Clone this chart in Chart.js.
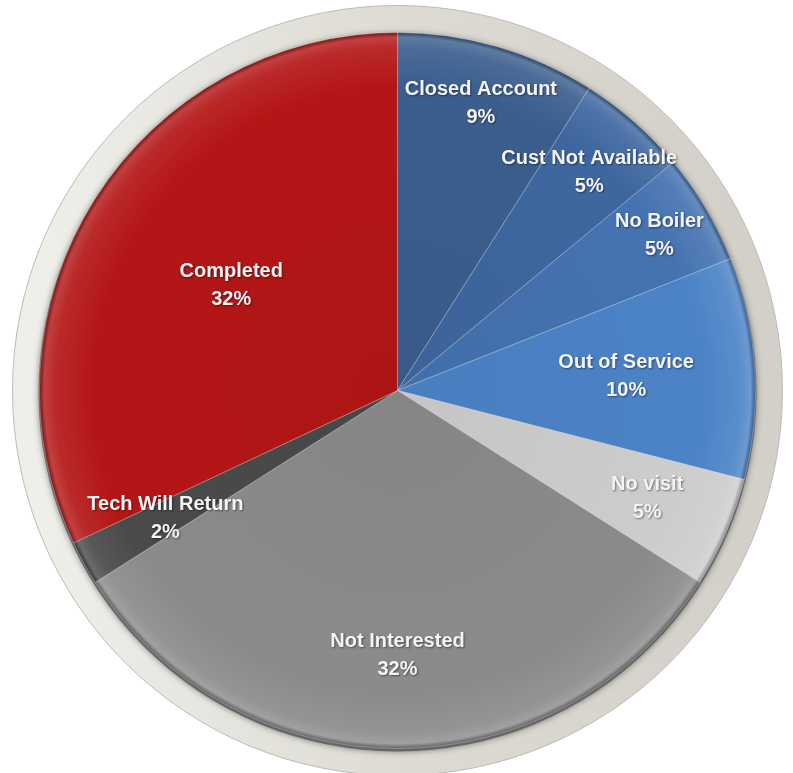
<!DOCTYPE html>
<html>
<head>
<meta charset="utf-8">
<script src="https://cdn.jsdelivr.net/npm/chart.js@4/dist/chart.umd.min.js"></script>
<style>
    html, body { margin: 0; padding: 0; background: #ffffff; }
    #wrap { width: 793px; height: 773px; position: relative; }
</style>
</head>
<body>
<div id="wrap"><canvas id="pie"></canvas></div>
<script>
// ===== DATA =====
var categories = ['Closed Account', 'Cust Not Available', 'No Boiler', 'Out of Service',
    'No visit', 'Not Interested', 'Tech Will Return', 'Completed'];
var percentValues = [9, 5, 5, 10, 5, 32, 2, 32];

// ===== STYLE =====
var sliceColors = ['#3b5e8e', '#3e67a0', '#4573b1', '#4c83c7', '#cdcdcd', '#8b8b8b', '#4a4a4a', '#b41616'];
// where along the radius each label sits (fraction of the pie radius)
var labelRadius = [0.835, 0.81, 0.85, 0.64, 0.76, 0.74, 0.74, 0.55];

function shade(hex, amt) {
    var n = parseInt(hex.slice(1), 16);
    var r = (n >> 16) & 255, g = (n >> 8) & 255, b = n & 255;
    var f = function (c) {
        c = amt < 0 ? c * (1 + amt) : c + (255 - c) * amt;
        return Math.max(0, Math.min(255, Math.round(c)));
    };
    return 'rgb(' + f(r) + ',' + f(g) + ',' + f(b) + ')';
}

// Radial shading so slices look a bit like the glossy original.
function sliceFill(ctx) {
    var chart = ctx.chart;
    var base = sliceColors[ctx.dataIndex];
    var area = chart.chartArea;
    if (!area) {
        return base;
    }
    var cx = (area.left + area.right) / 2;
    var cy = (area.top + area.bottom) / 2;
    var r = Math.min(area.right - area.left, area.bottom - area.top) / 2;
    var g = chart.ctx.createRadialGradient(cx, cy, 0, cx, cy, r);
    g.addColorStop(0, shade(base, -0.04));
    g.addColorStop(0.85, base);
    g.addColorStop(0.955, shade(base, 0.08));
    g.addColorStop(0.985, shade(base, 0.18));
    g.addColorStop(1, shade(base, -0.35));
    return g;
}

// ===== BEZEL (grey ring behind the pie) =====
var bezelPlugin = {
    id: 'bezel',
    beforeDatasetsDraw: function (chart) {
        var arc = chart.getDatasetMeta(0).data[0];
        if (!arc) {
            return;
        }
        var c = chart.ctx;
        var x = arc.x, y = arc.y, r = arc.outerRadius;
        c.save();
        var g = c.createLinearGradient(x - r, y, x + r, y);
        g.addColorStop(0, '#efeee9');
        g.addColorStop(0.5, '#dddbd4');
        g.addColorStop(1, '#d2d0c8');
        c.beginPath();
        c.arc(x, y, r + 27, 0, Math.PI * 2);
        c.fillStyle = g;
        c.fill();
        c.lineWidth = 1;
        c.strokeStyle = '#bdbbb3';
        c.stroke();
        // soft shadow under the pie
        c.beginPath();
        c.arc(x, y + 2, r + 1, 0, Math.PI * 2);
        c.shadowColor = 'rgba(0,0,0,0.45)';
        c.shadowBlur = 6;
        c.fillStyle = '#666666';
        c.fill();
        c.restore();
    }
};

// ===== SLICE LABELS =====
var labelPlugin = {
    id: 'sliceLabels',
    afterDatasetsDraw: function (chart) {
        var c = chart.ctx;
        var arcs = chart.getDatasetMeta(0).data;
        c.save();
        c.font = 'bold 20px "Liberation Sans", Arial, sans-serif';
        c.textAlign = 'center';
        c.textBaseline = 'middle';
        c.fillStyle = '#f4f4f4';
        c.shadowColor = 'rgba(0,0,0,0.45)';
        c.shadowBlur = 2;
        c.shadowOffsetX = 1;
        c.shadowOffsetY = 1;
        arcs.forEach(function (arc, i) {
            var mid = (arc.startAngle + arc.endAngle) / 2;
            var r = arc.outerRadius * labelRadius[i];
            var x = arc.x + Math.cos(mid) * r;
            var y = arc.y + Math.sin(mid) * r;
            c.fillText(categories[i], x, y - 14);
            c.fillText(percentValues[i] + '%', x, y + 14);
        });
        c.restore();
    }
};

new Chart(document.getElementById('pie'), {
    type: 'pie',
    data: {
        labels: categories,
        datasets: [{
            data: percentValues,
            backgroundColor: sliceFill,
            borderColor: 'rgba(255,255,255,0.28)',
            borderWidth: 1,
            hoverOffset: 0
        }]
    },
    options: {
        responsive: true,
        maintainAspectRatio: false,
        animation: false,
        layout: {
            padding: { left: 39, right: 37, top: 32, bottom: 24 }
        },
        plugins: {
            legend: { display: false },
            tooltip: { enabled: false }
        }
    },
    plugins: [bezelPlugin, labelPlugin]
});
</script>
</body>
</html>
